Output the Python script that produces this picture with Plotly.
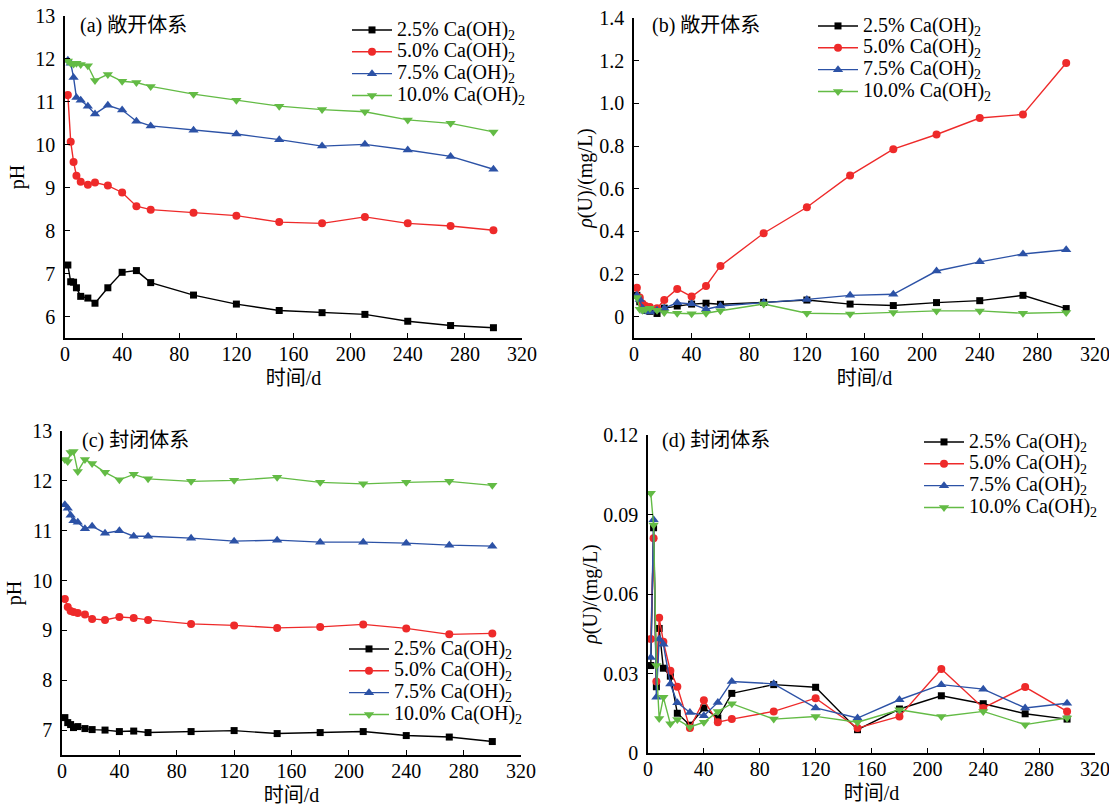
import plotly.graph_objects as go

# ---------------- data ----------------
days = [2, 4, 6, 8, 11, 16, 21, 30, 40, 50, 60, 90, 120, 150, 180, 210, 240, 270, 300]
series_names = ["2.5% Ca(OH)", "5.0% Ca(OH)", "7.5% Ca(OH)", "10.0% Ca(OH)"]

# (a) open system pH
a_25 = [7.20, 6.81, 6.80, 6.67, 6.47, 6.43, 6.31, 6.67, 7.03, 7.07, 6.79, 6.50, 6.29, 6.14, 6.09, 6.05, 5.89, 5.79, 5.74]
a_50 = [11.16, 10.07, 9.60, 9.28, 9.14, 9.07, 9.12, 9.05, 8.89, 8.57, 8.49, 8.42, 8.35, 8.20, 8.17, 8.32, 8.17, 8.11, 8.01]
a_75 = [11.97, 11.90, 11.57, 11.10, 11.04, 10.90, 10.72, 10.92, 10.81, 10.55, 10.44, 10.34, 10.25, 10.12, 9.97, 10.01, 9.88, 9.73, 9.43]
a_100 = [11.95, 11.90, 11.88, 11.90, 11.87, 11.84, 11.50, 11.64, 11.48, 11.45, 11.36, 11.18, 11.04, 10.90, 10.82, 10.77, 10.58, 10.50, 10.30]

# (b) open system U concentration
b_25 = [0.100, 0.070, 0.040, 0.030, 0.025, 0.015, 0.040, 0.050, 0.059, 0.063, 0.058, 0.067, 0.078, 0.059, 0.052, 0.066, 0.075, 0.100, 0.038]
b_50 = [0.135, 0.090, 0.060, 0.050, 0.045, 0.040, 0.078, 0.130, 0.094, 0.144, 0.238, 0.391, 0.513, 0.662, 0.785, 0.854, 0.931, 0.948, 1.189]
b_75 = [0.100, 0.080, 0.040, 0.025, 0.022, 0.030, 0.040, 0.065, 0.060, 0.035, 0.050, 0.066, 0.081, 0.100, 0.105, 0.214, 0.257, 0.294, 0.314]
b_100 = [0.090, 0.035, 0.030, 0.035, 0.040, 0.030, 0.020, 0.016, 0.014, 0.016, 0.028, 0.059, 0.016, 0.013, 0.020, 0.027, 0.027, 0.016, 0.020]

# (c) closed system pH
c_25 = [7.25, 7.15, 7.11, 7.05, 7.07, 7.03, 7.01, 7.00, 6.97, 6.98, 6.95, 6.97, 6.99, 6.93, 6.95, 6.97, 6.89, 6.86, 6.77]
c_50 = [9.63, 9.47, 9.39, 9.37, 9.35, 9.32, 9.23, 9.21, 9.27, 9.25, 9.21, 9.13, 9.10, 9.05, 9.07, 9.12, 9.04, 8.92, 8.94]
c_75 = [11.52, 11.45, 11.31, 11.20, 11.17, 11.04, 11.09, 10.95, 11.00, 10.89, 10.89, 10.85, 10.79, 10.81, 10.77, 10.77, 10.75, 10.71, 10.69]
c_100 = [12.43, 12.39, 12.57, 12.59, 12.19, 12.43, 12.35, 12.17, 12.02, 12.13, 12.04, 11.99, 12.01, 12.07, 11.97, 11.94, 11.97, 11.99, 11.91]

# (d) closed system U concentration
d_25 = [0.033, 0.085, 0.025, 0.047, 0.032, 0.029, 0.015, 0.0105, 0.017, 0.0132, 0.0225, 0.0258, 0.0248, 0.0088, 0.0166, 0.0216, 0.0186, 0.0148, 0.0128]
d_50 = [0.043, 0.081, 0.027, 0.051, 0.042, 0.031, 0.025, 0.0094, 0.0199, 0.0116, 0.0128, 0.0157, 0.0207, 0.0094, 0.0138, 0.0317, 0.0170, 0.0249, 0.0157]
d_75 = [0.036, 0.088, 0.021, 0.043, 0.041, 0.026, 0.019, 0.0153, 0.0141, 0.0191, 0.0270, 0.0261, 0.0170, 0.0132, 0.0201, 0.0258, 0.0241, 0.0170, 0.0188]
d_100 = [0.098, 0.086, 0.033, 0.013, 0.021, 0.011, 0.0126, 0.0098, 0.0116, 0.0157, 0.0186, 0.0128, 0.0138, 0.0116, 0.0163, 0.0138, 0.0157, 0.0107, 0.0132]

panel_titles = ["(a) 敞开体系", "(b) 敞开体系", "(c) 封闭体系", "(d) 封闭体系"]
x_ticks = [0, 40, 80, 120, 160, 200, 240, 280, 320]
ph_ticks_a = [6, 7, 8, 9, 10, 11, 12, 13]
ph_ticks_c = [7, 8, 9, 10, 11, 12, 13]
u_ticks_b = [0, 0.2, 0.4, 0.6, 0.8, 1.0, 1.2, 1.4]
u_ticks_b_text = ["0", "0.2", "0.4", "0.6", "0.8", "1.0", "1.2", "1.4"]
u_ticks_d = [0, 0.03, 0.06, 0.09, 0.12]
u_ticks_d_text = ["0", "0.03", "0.06", "0.09", "0.12"]

# ---------------- style ----------------
W, H = 1109, 811
FONT = "Liberation Serif, 'Noto Sans CJK SC', serif"
colors = ["#000000", "#ee2a2a", "#2c52a6", "#63bb45"]
symbols = ["square", "circle", "triangle-up", "triangle-down"]
msizes = [7, 8, 9, 9]

def px_x(p):
    return p / W

def px_y(p):
    return 1 - p / H

panels = [
    dict(data=[a_25, a_50, a_75, a_100], xa="x", ya="y", lg="legend", xd=(65, 522), yd=(16, 338)),
    dict(data=[b_25, b_50, b_75, b_100], xa="x2", ya="y2", lg="legend2", xd=(634, 1095), yd=(18, 338)),
    dict(data=[c_25, c_50, c_75, c_100], xa="x3", ya="y3", lg="legend3", xd=(62, 521), yd=(431, 755)),
    dict(data=[d_25, d_50, d_75, d_100], xa="x4", ya="y4", lg="legend4", xd=(648, 1095), yd=(435, 753)),
]

fig = go.Figure()
for p in panels:
    for i, vals in enumerate(p["data"]):
        fig.add_trace(go.Scatter(
            x=days, y=vals, mode="lines+markers",
            name="<span style='font-size:20px'>" + series_names[i] + "<sub>2</sub></span>",
            line=dict(color=colors[i], width=1.4),
            marker=dict(symbol=symbols[i], size=msizes[i], color=colors[i]),
            xaxis=p["xa"], yaxis=p["ya"], legend=p["lg"],
        ))

axis_common = dict(
    showline=True, linecolor="black", linewidth=1.5, showgrid=False, zeroline=False,
    ticks="inside", ticklen=5, tickwidth=1.3, tickcolor="black", automargin=False,
    ticklabeloverflow="allow",
    tickfont=dict(family=FONT, size=20, color="black"),
)

layout = dict(
    width=W, height=H, margin=dict(l=0, r=0, t=0, b=0, autoexpand=False),
    paper_bgcolor="white", plot_bgcolor="white",
    font=dict(family=FONT, size=20, color="black"),
    showlegend=True,
)

yspecs = [
    dict(range=[5.5, 13], tickvals=ph_ticks_a, title="pH", standoff=5),
    dict(range=[-0.1, 1.4], tickvals=u_ticks_b, ticktext=u_ticks_b_text, title="<i>ρ</i>(U)/(mg/L)", standoff=1),
    dict(range=[6.5, 13], tickvals=ph_ticks_c, title="pH", standoff=5),
    dict(range=[0, 0.12], tickvals=u_ticks_d, ticktext=u_ticks_d_text, title="<i>ρ</i>(U)/(mg/L)", standoff=0),
]
legend_pos = [(347, 14), (813, 10), (344, 633), (919, 426)]

for k, p in enumerate(panels):
    xname = "xaxis" if k == 0 else f"xaxis{k+1}"
    yname = "yaxis" if k == 0 else f"yaxis{k+1}"
    ys = yspecs[k]
    layout[xname] = dict(
        axis_common, domain=[px_x(p["xd"][0]), px_x(p["xd"][1])], anchor=p["ya"],
        range=[0, 320], tickvals=x_ticks, ticklabelstandoff=-3,
        title=dict(text="时间/d", font=dict(family=FONT, size=20), standoff=7),
    )
    yax = dict(
        axis_common, domain=[px_y(p["yd"][1]), px_y(p["yd"][0])], anchor=p["xa"],
        range=ys["range"], tickvals=ys["tickvals"], ticklabelstandoff=4,
        title=dict(text=ys["title"], font=dict(family=FONT, size=20), standoff=ys["standoff"]),
    )
    if "ticktext" in ys:
        yax["ticktext"] = ys["ticktext"]
    layout[yname] = yax
    lx, ly = legend_pos[k]
    layout[p["lg"]] = dict(
        x=px_x(lx), y=px_y(ly), xanchor="left", yanchor="top",
        bgcolor="rgba(0,0,0,0)", borderwidth=0, tracegroupgap=0,
        font=dict(family=FONT, size=14.5, color="black"), itemwidth=40,
    )

annotations = []
title_pos = [(78, 25), (650, 25), (80, 440), (660, 440)]
for k, t in enumerate(panel_titles):
    tx, ty = title_pos[k]
    annotations.append(dict(
        text=t, x=px_x(tx), y=px_y(ty), xref="paper", yref="paper",
        xanchor="left", yanchor="middle", showarrow=False,
        font=dict(family=FONT, size=20, color="black"),
    ))
layout["annotations"] = annotations

fig.update_layout(**layout)
fig.write_html("out.html", config={"displayModeBar": False},
               post_script="document.body.style.margin='0';")
